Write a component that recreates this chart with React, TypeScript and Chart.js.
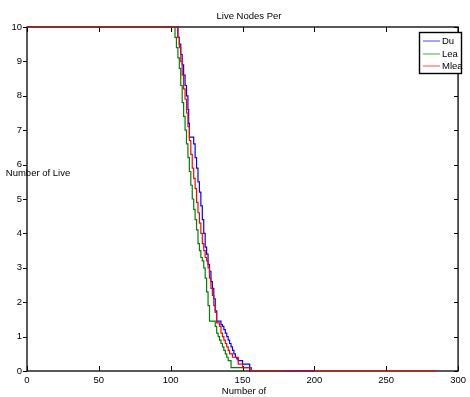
import React, { useEffect, useRef } from "react";
import { Chart, registerables } from "chart.js";

Chart.register(...registerables);

const xTicks = [0, 50, 100, 150, 200, 250, 300];
const yTicks = [0, 1, 2, 3, 4, 5, 6, 7, 8, 9, 10];
const seriesNames = ["Du", "Lea", "Mlea"];
const seriesColors = ["#0000ff", "#008000", "#ff0000"];
const seriesOrder = [2, 1, 0];
const titleText = "Live Nodes Per";
const xLabelText = "Number of";
const yLabelText = "Number of Live";

const duX = [0, 104, 105, 106, 107, 108, 109, 110, 111, 112, 112.5, 113, 116, 117, 118, 119, 120, 121, 122, 123, 124, 125, 126, 127, 128, 129, 130, 131, 132, 135, 136, 137, 138, 139, 140, 141, 142, 143, 144, 145, 146, 147, 150, 155, 200];
const duY = [10, 10, 9.7, 9.5, 9.2, 8.9, 8.6, 8.3, 8.0, 7.6, 7.2, 6.8, 6.6, 6.2, 5.9, 5.5, 5.2, 4.8, 4.4, 4.0, 3.6, 3.4, 3.1, 2.9, 2.6, 2.4, 2.1, 1.75, 1.45, 1.35, 1.3, 1.2, 1.1, 1.0, 0.9, 0.8, 0.7, 0.6, 0.5, 0.4, 0.35, 0.3, 0.2, 0, 0];

const leaX = [0, 102, 103, 104, 105, 106, 107, 108, 109, 110, 111, 112, 113, 114, 115, 116, 117, 118, 119, 120, 121, 122, 123, 124, 125, 126, 127, 131, 132, 133, 134, 135, 136, 137, 138, 139, 140, 142, 156, 180];
const leaY = [10, 10, 9.7, 9.4, 9.1, 8.8, 8.3, 7.8, 7.4, 7.0, 6.6, 6.2, 5.8, 5.4, 5.0, 4.7, 4.4, 4.1, 3.7, 3.5, 3.3, 3.2, 3.0, 2.7, 2.3, 1.9, 1.45, 1.3, 1.1, 1.0, 0.9, 0.8, 0.7, 0.6, 0.5, 0.4, 0.3, 0.1, 0, 0];

const mleaX = [0, 104, 105, 106, 107, 108, 109, 110, 111, 112, 113, 114, 115, 116, 117, 118, 119, 120, 121, 122, 123, 124, 125, 126, 127, 128, 129, 130, 131, 132, 134, 135, 136, 137, 138, 139, 140, 141, 143, 147, 150, 156, 285];
const mleaY = [10, 10, 9.7, 9.4, 9.0, 8.6, 8.2, 7.9, 7.5, 7.1, 6.7, 6.3, 5.9, 5.6, 5.3, 4.9, 4.6, 4.3, 4.0, 3.7, 3.5, 3.3, 3.2, 3.0, 2.7, 2.4, 2.2, 1.9, 1.7, 1.4, 1.3, 1.1, 1.0, 0.9, 0.8, 0.7, 0.6, 0.5, 0.4, 0.2, 0.1, 0, 0];

const seriesX = [duX, leaX, mleaX];
const seriesY = [duY, leaY, mleaY];

const FONT = "'Liberation Sans', Arial, Helvetica, sans-serif";
const FS = 9.5;

const matlabPlugin = {
  id: "matlabDecor",
  beforeDatasetsDraw(chart: any) {
    const { ctx, chartArea: a, scales } = chart;
    ctx.save();
    ctx.strokeStyle = "#000";
    ctx.lineWidth = 1.3;
    ctx.strokeRect(a.left, a.top, a.right - a.left, a.bottom - a.top);
    ctx.lineWidth = 1;
    ctx.beginPath();
    for (const v of xTicks) {
      const px = Math.round(scales.x.getPixelForValue(v)) + 0.5;
      ctx.moveTo(px, a.bottom);
      ctx.lineTo(px, a.bottom - 5);
      ctx.moveTo(px, a.top);
      ctx.lineTo(px, a.top + 5);
    }
    for (const v of yTicks) {
      const py = Math.round(scales.y.getPixelForValue(v)) + 0.5;
      ctx.moveTo(a.left - 4, py);
      ctx.lineTo(a.left, py);
      ctx.moveTo(a.right, py);
      ctx.lineTo(a.right - 4, py);
    }
    ctx.stroke();
    ctx.restore();
  },
  afterDraw(chart: any) {
    const { ctx } = chart;
    ctx.save();
    ctx.fillStyle = "#000";
    ctx.font = `${FS}px ${FONT}`;
    ctx.textAlign = "center";
    ctx.textBaseline = "middle";
    ctx.fillText(titleText, 249, 16);
    ctx.fillText(xLabelText, 244, 391);
    ctx.fillText(yLabelText, 38, 173);

    // legend
    const lx = 419.5, ly = 32.5, lw = 42, lh = 41;
    ctx.fillStyle = "#fff";
    ctx.fillRect(lx, ly, lw, lh);
    ctx.strokeStyle = "#000";
    ctx.lineWidth = 1.4;
    ctx.strokeRect(lx, ly, lw, lh);
    const rows = [41, 53.5, 66];
    ctx.textAlign = "left";
    for (let i = 0; i < seriesNames.length; i++) {
      ctx.strokeStyle = seriesColors[i];
      ctx.globalAlpha = 0.7;
      ctx.lineWidth = 1;
      ctx.beginPath();
      ctx.moveTo(423, Math.round(rows[i]));
      ctx.lineTo(440, Math.round(rows[i]));
      ctx.stroke();
      ctx.globalAlpha = 1;
      ctx.fillStyle = "#000";
      ctx.fillText(seriesNames[i], 442, rows[i] + 0.5);
    }
    ctx.restore();
  },
};

export default function App() {
  const ref = useRef<HTMLCanvasElement | null>(null);

  useEffect(() => {
    document.body.style.margin = "0";
    const canvas = ref.current;
    if (!canvas) return;
    const chart = new Chart(canvas, {
      type: "line",
      data: {
        datasets: seriesNames.map((name, i) => ({
          label: name,
          data: seriesX[i].map((x, j) => ({ x, y: seriesY[i][j] })),
          borderColor: seriesColors[i],
          backgroundColor: seriesColors[i],
          borderWidth: 1.2,
          pointRadius: 0,
          stepped: true,
          fill: false,
          clip: 6,
          order: seriesOrder[i],
        })),
      },
      options: {
        animation: false,
        responsive: false,
        maintainAspectRatio: false,
        events: [],
        layout: { padding: { top: 27, right: 7, left: 0, bottom: 0 }, autoPadding: false },
        plugins: {
          legend: { display: false },
          title: { display: false },
          tooltip: { enabled: false },
        },
        scales: {
          x: {
            type: "linear",
            min: 0,
            max: 300,
            afterFit: (s: any) => {
              s.height = 26;
            },
            grid: { display: false, drawTicks: false },
            border: { display: false },
            ticks: {
              stepSize: 50,
              color: "#000",
              font: { family: FONT, size: FS },
              padding: 4,
              maxRotation: 0,
              autoSkip: false,
            },
          },
          y: {
            type: "linear",
            min: 0,
            max: 10,
            afterFit: (s: any) => {
              s.width = 27;
            },
            grid: { display: false, drawTicks: false },
            border: { display: false },
            ticks: {
              stepSize: 1,
              color: "#000",
              font: { family: FONT, size: FS },
              padding: 5,
              autoSkip: false,
            },
          },
        },
      },
      plugins: [matlabPlugin],
    });
    return () => chart.destroy();
  }, []);

  return (
    <div style={{ width: 470, height: 397, background: "#fff" }}>
      <canvas ref={ref} width={470} height={397} style={{ display: "block" }} />
    </div>
  );
}
